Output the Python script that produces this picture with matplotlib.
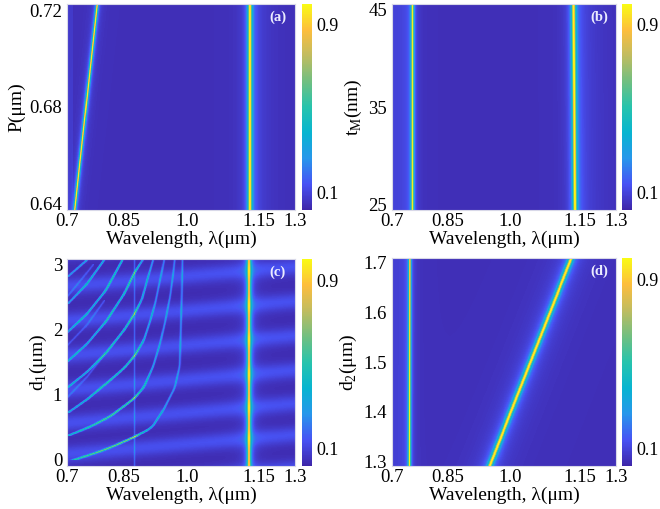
import numpy as np
import matplotlib
matplotlib.use('Agg')
import matplotlib.pyplot as plt
from matplotlib.colors import LinearSegmentedColormap

plt.rcParams['font.family'] = ['Liberation Serif', 'DejaVu Serif']

# parula-like colours (MATLAB default map)
parula_colors = [
    (0.2422, 0.1504, 0.6603), (0.2810, 0.3228, 0.9579), (0.1540, 0.5902, 0.9218),
    (0.0297, 0.7082, 0.8163), (0.1540, 0.7661, 0.6755), (0.4420, 0.7481, 0.5033),
    (0.7525, 0.7384, 0.3768), (0.9932, 0.7439, 0.2394), (0.9769, 0.9839, 0.0805),
]
parula = LinearSegmentedColormap.from_list('parula', parula_colors)

# the wavelength axis of the original is not evenly spaced between its labels
wl_ticks = [0.7, 0.85, 1.0, 1.15, 1.3]
wl_tick_labels = ['0.7', '0.85', '1.0', '1.15', '1.3']
wl_scale_pos = [0.0, 0.25, 0.528, 0.84, 1.0]
cbar_ticks = [0.1, 0.9]

# (a) period P (um) vs resonance wavelengths (um)
a_P = [0.64, 0.72]
a_mode1 = [0.722, 0.778]
a_mode2 = [1.132, 1.132]

# (b) metal thickness tM (nm)
b_t = [25, 45]
b_mode1 = [0.755, 0.755]
b_mode2 = [1.139, 1.136]

# (d) d2 (um)
d_d2 = [1.3, 1.7]
d_mode1 = [0.747, 0.748]
d_mode2 = [0.955, 1.127]

# (c) d1 (um): vertical mode, Wood line and guided-mode curves (wavelength, d1)
c_mode_wl = 1.130
c_wood_wl = 0.875
c_curves = [
    ([0.722, 0.77, 0.813, 0.848, 0.876, 0.916, 0.943, 0.970, 0.982, 0.987, 0.988],
     [0.0, 0.09, 0.18, 0.27, 0.35, 0.49, 0.76, 1.10, 1.43, 2.59, 3.0]),
    ([0.70, 0.76, 0.813, 0.848, 0.876, 0.896, 0.919, 0.935, 0.947, 0.959, 0.967, 0.969],
     [0.36, 0.50, 0.66, 0.81, 0.95, 1.10, 1.43, 1.77, 2.11, 2.50, 2.88, 3.0]),
    ([0.70, 0.75, 0.80, 0.848, 0.876, 0.896, 0.911, 0.924, 0.935, 0.943],
     [0.71, 0.91, 1.15, 1.39, 1.60, 1.82, 2.11, 2.40, 2.74, 3.0]),
    ([0.70, 0.75, 0.80, 0.848, 0.876, 0.892, 0.904, 0.916],
     [1.10, 1.33, 1.62, 1.97, 2.25, 2.45, 2.74, 3.0]),
    ([0.70, 0.75, 0.80, 0.848, 0.874, 0.888],
     [1.50, 1.76, 2.10, 2.52, 2.86, 3.0]),
    ([0.70, 0.75, 0.80, 0.84], [1.95, 2.22, 2.58, 3.0]),
    ([0.70, 0.75, 0.79], [2.38, 2.68, 3.0]),
    ([0.70, 0.74], [2.80, 3.0]),
]
c_curve_gain = [1.3, 1.15, 1.0, 0.95, 0.9, 0.9, 0.85, 0.8]
# fainter crossing lines in the short-wavelength corner (wavelength, d1)
c_faint = [
    ([0.70, 0.75, 0.80], [0.95, 1.25, 1.62]),
    ([0.70, 0.75, 0.80], [1.75, 2.05, 2.45]),
    ([0.70, 0.74, 0.77], [2.50, 2.78, 3.0]),
]
# Fabry-Perot stripes: centre d1 at the left (0.7) and right (1.3) edges
c_band_left = [-0.44, 0.08, 0.56, 1.07, 1.60, 2.13, 2.66, 3.19]
c_band_right = [-0.14, 0.38, 0.86, 1.37, 1.90, 2.43, 2.96, 3.49]


def fwd(x):
    return np.interp(x, wl_ticks, wl_scale_pos)


def inv(f):
    return np.interp(f, wl_scale_pos, wl_ticks)


NX = 900
f_edges = np.linspace(0, 1, NX + 1)
f_cent = 0.5 * (f_edges[1:] + f_edges[:-1])
wl_edges = inv(f_edges)
wl_cent = inv(f_cent)


def lin(y, yp, xp):
    yp = np.asarray(yp, float)
    xp = np.asarray(xp, float)
    out = np.interp(y, yp, xp)
    lo = y < yp[0]
    hi = y > yp[-1]
    out[lo] = xp[0] + (y[lo] - yp[0]) * (xp[1] - xp[0]) / (yp[1] - yp[0])
    out[hi] = xp[-1] + (y[hi] - yp[-1]) * (xp[-1] - xp[-2]) / (yp[-1] - yp[-2])
    return out


def smooth(v, n):
    k = np.ones(n) / n
    pad = np.concatenate([np.full(n, v[0]), v, np.full(n, v[-1])])
    return np.convolve(pad, k, mode='same')[n:-n]


def ridge(y, y_pts, wl_pts, w, amp, pw, ph, gauss=False, cut=False, sm=1):
    c = lin(y, y_pts, fwd(np.array(wl_pts))) * pw
    if sm > 1:
        c = smooth(c, sm)
    s = np.gradient(c, y * ph)
    dist = (f_cent[None, :] * pw - c[:, None]) / np.sqrt(1 + s[:, None] ** 2)
    if gauss:
        out = amp * np.exp(-0.5 * (dist / w) ** 2)
    else:
        out = amp / (1 + (dist / w) ** 2)
    if cut:
        out = out * (y >= min(y_pts))[:, None]
    return out


def shoulder(y, y_pts, wl_pts, amp, decay_px, pw):
    c = lin(y, y_pts, fwd(np.array(wl_pts))) * pw
    d = f_cent[None, :] * pw - c[:, None]
    return np.where(d > 0, amp * np.exp(-d / decay_px), amp * np.exp(d / 4.0))


def edge_glow(ny, wl_lim, amp):
    return np.where(wl_cent < wl_lim, amp, 0.0)[None, :] * np.ones((ny, 1))


# panel (a)
ylim_a = (0.6375, 0.7225)
ya = np.linspace(*ylim_a, 300)
pa = 206 / (ylim_a[1] - ylim_a[0])
Za = 0.04 + ridge(ya, a_P, a_mode1, 1.0, 0.93, 228, pa) + ridge(ya, a_P, a_mode2, 1.6, 0.93, 228, pa)
Za += shoulder(ya, a_P, a_mode2, 0.07, 12, 228) + edge_glow(len(ya), 0.715, 0.03)

# panel (b)
ylim_b = (24.4, 45.6)
yb = np.linspace(*ylim_b, 300)
pb = 206 / (ylim_b[1] - ylim_b[0])
Zb = 0.04 + ridge(yb, b_t, b_mode1, 1.1, 0.93, 224, pb) + ridge(yb, b_t, b_mode2, 1.6, 0.93, 224, pb)
Zb += shoulder(yb, b_t, b_mode2, 0.09, 16, 224) + edge_glow(len(yb), 0.755, 0.05)

# panel (d)
ylim_d = (1.29, 1.71)
yd = np.linspace(*ylim_d, 300)
pd_ = 208 / (ylim_d[1] - ylim_d[0])
Zd = 0.04 + ridge(yd, d_d2, d_mode1, 1.0, 0.93, 224, pd_) + ridge(yd, d_d2, d_mode2, 1.7, 0.93, 224, pd_)
Zd += ridge(yd, d_d2, d_mode2, 12, 0.05, 224, pd_) + edge_glow(len(yd), 0.747, 0.04)

# panel (c)
ylim_c = (-0.1, 3.08)
yc = np.linspace(*ylim_c, 700)
pc = 207 / (ylim_c[1] - ylim_c[0])
Zc = np.full((len(yc), NX), 0.03)
for cl, cr in zip(c_band_left, c_band_right):
    cen = cl + (cr - cl) * f_cent[None, :]
    Zc += 0.1 * np.exp(-((yc[:, None] - cen) / 0.13) ** 2)
Zc += ridge(yc, [0, 3], [c_mode_wl, c_mode_wl], 1.6, 0.9, 228, pc)
Zc += ridge(yc, [0, 3], [c_wood_wl, c_wood_wl], 0.6, 0.13, 228, pc, gauss=True)
amp_curve = np.interp(wl_cent, [0.7, 0.86, 0.875, 0.89, 0.93, 0.99],
                      [0.3, 0.45, 0.55, 0.33, 0.2, 0.14])[None, :]
for (cw, cd), g in zip(c_curves, c_curve_gain):
    Zc += ridge(yc, cd, cw, 0.7, g, 228, pc, gauss=True, cut=True, sm=25) * amp_curve
for cw, cd in c_faint:
    Zc += ridge(yc, cd, cw, 0.7, 0.1, 228, pc, gauss=True, cut=True, sm=15) * \
        (yc <= max(cd))[:, None] * (wl_cent <= max(cw))[None, :]

panels = [
    (Za, ya, ylim_a, 'P(μm)', [0.64, 0.68, 0.72], ['0.64', '0.68', '0.72'], '(a)',
     [67, 4, 228, 206], [302, 4]),
    (Zb, yb, ylim_b, 't$_\\mathregular{M}$(nm)', [25, 35, 45], ['25', '35', '45'], '(b)',
     [392, 4, 224, 206], [622, 4]),
    (Zc, yc, ylim_c, 'd$_\\mathregular{1}$(μm)', [0, 1, 2, 3], ['0', '1', '2', '3'], '(c)',
     [67, 259, 228, 207], [302, 259]),
    (Zd, yd, ylim_d, 'd$_\\mathregular{2}$(μm)', [1.3, 1.4, 1.5, 1.6, 1.7],
     ['1.3', '1.4', '1.5', '1.6', '1.7'], '(d)', [392, 258, 224, 208], [622, 258]),
]

W, H = 660, 509
fig = plt.figure(figsize=(6.6, 5.09), dpi=100)
for Z, yv, ylim, ylab, yt, ytl, tag, box, cb in panels:
    x0, y0, w, h = box
    ax = fig.add_axes([x0 / W, 1 - (y0 + h) / H, w / W, h / H])
    ax.set_xscale('function', functions=(fwd, inv))
    dy = yv[1] - yv[0]
    y_edges = np.concatenate([yv - dy / 2, [yv[-1] + dy / 2]])
    im = ax.pcolormesh(wl_edges, y_edges, np.clip(Z, 0, 1), cmap=parula,
                       vmin=0.015, vmax=1.0, shading='flat', rasterized=True)
    ax.set_xlim(0.7, 1.3)
    ax.set_ylim(*ylim)
    ax.set_xticks(wl_ticks)
    ax.set_xticklabels(wl_tick_labels)
    ax.minorticks_off()
    ax.set_yticks(yt)
    ax.set_yticklabels(ytl)
    ax.tick_params(length=0, labelsize=13.5)
    ax.tick_params(axis='x', pad=2.5)
    ax.tick_params(axis='y', pad=3.5)
    ax.set_xlabel('Wavelength, λ(μm)', fontsize=14, labelpad=0)
    ax.set_ylabel(ylab, fontsize=14, labelpad=3)
    for sp in ax.spines.values():
        sp.set_color('#d8d8e8')
        sp.set_linewidth(0.8)
    ax.text(0.925, 0.935, tag, transform=ax.transAxes, ha='center', va='center',
            color='#ececff', fontsize=10.5, fontweight='bold')
    cax = fig.add_axes([cb[0] / W, 1 - (cb[1] + h) / H, 10 / W, h / H])
    cbar = fig.colorbar(im, cax=cax, ticks=cbar_ticks)
    cbar.outline.set_visible(False)
    cbar.ax.set_yticklabels(['0.1', '0.9'])
    cbar.ax.tick_params(length=0, labelsize=13, pad=3)

fig.savefig('out.png', dpi=100)
